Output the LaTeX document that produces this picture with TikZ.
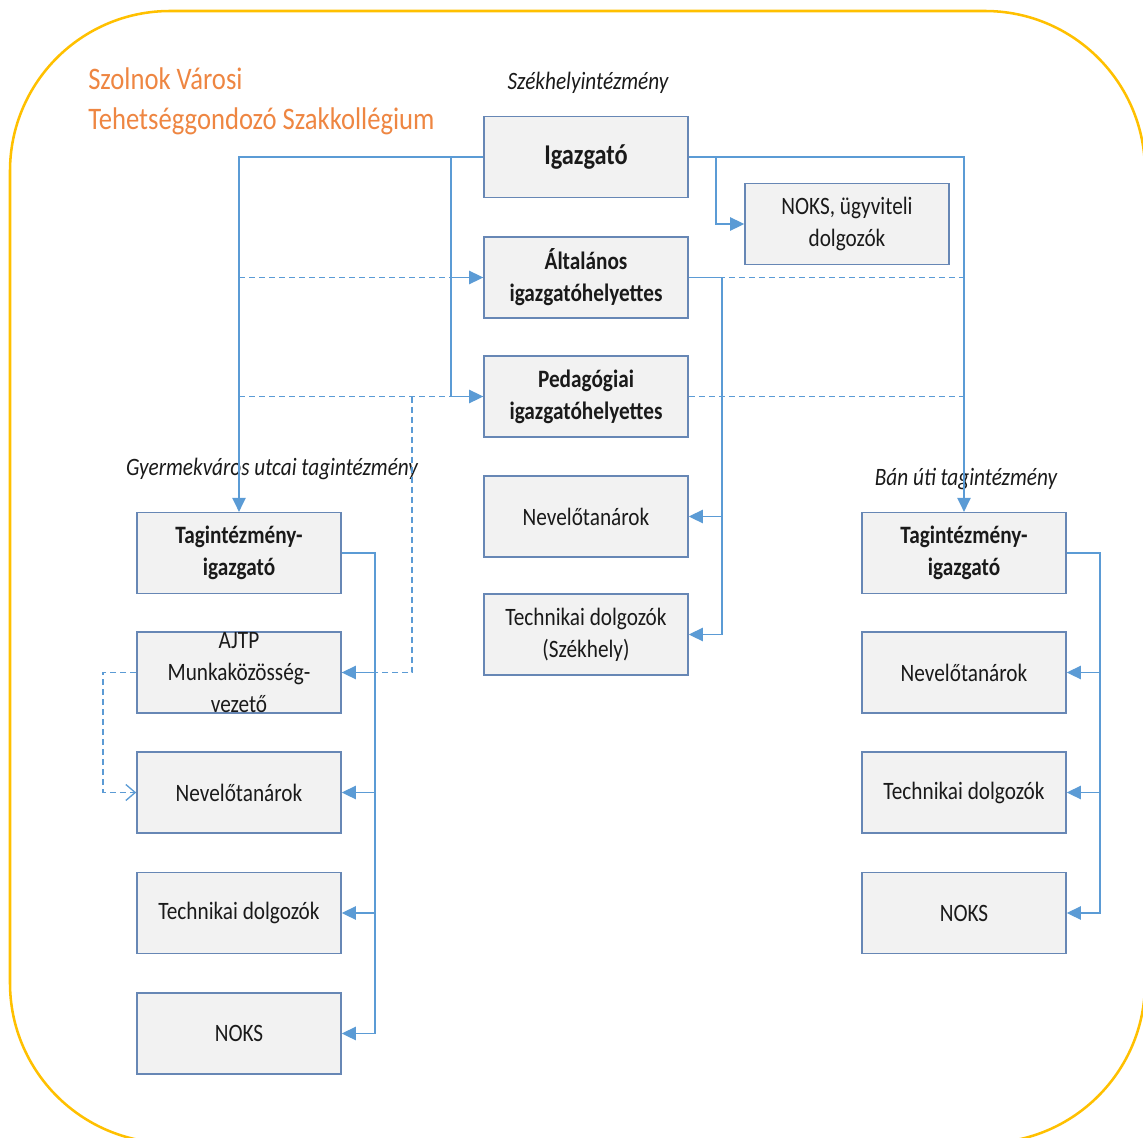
\documentclass[tikz,border=0pt]{standalone}
\usepackage{fontspec}
\setmainfont{Carlito}[FakeStretch=0.85]
\usetikzlibrary{arrows.meta}
\definecolor{frameC}{HTML}{FFC000}
\definecolor{titleC}{HTML}{EE8642}
\definecolor{lineC}{HTML}{5B9BD5}
\definecolor{boxD}{HTML}{6787B5}
\definecolor{boxF}{HTML}{F2F2F2}
\definecolor{txt}{HTML}{1A1A1A}
\tikzset{
  box/.style={draw=boxD, fill=boxF, line width=1.2pt, minimum width=153pt, minimum height=60.5pt,
    inner sep=0pt, align=center, text=txt, font=\fontsize{18.75}{24}\selectfont},
  bbox/.style={box, font=\fontsize{18.75}{24}\selectfont\bfseries},
  conn/.style={draw=lineC, line width=1pt},
  arr/.style={conn, -{Triangle[length=10.5pt,width=10pt]}},
  dline/.style={draw=lineC, line width=1pt, dash pattern=on 4.5pt off 3pt},
  lbl/.style={text=txt, font=\fontsize{18.75}{24}\selectfont\itshape, inner sep=0pt},
}
\begin{document}
\begin{tikzpicture}[x=0.75pt,y=-0.75pt]
\useasboundingbox (0,0) rectangle (1143,1138);
\clip (0,0) rectangle (1143,1138);
\draw[frameC, line width=1.9pt, rounded corners=120pt] (10,11) rectangle (1145,1143);

\node[anchor=west, align=left, text=titleC, inner sep=0pt, font=\fontsize{23.5}{30}\selectfont] (title) at (88,101) {Szolnok Városi\\Tehetséggondozó Szakkollégium};

\node[lbl] (lblS) at (588,83) {Székhelyintézmény};
\node[lbl] (lblG) at (272,469) {Gyermekváros utcai tagintézmény};
\node[lbl] (lblB) at (966,479) {Bán úti tagintézmény};

% center column
\node[bbox, font=\fontsize{21.5}{26}\selectfont\bfseries] (ig) at (586,157) {Igazgató};
\node[box] (noks0) at (847,224) {NOKS, ügyviteli\\dolgozók};
\node[bbox] (alt) at (586,277.5) {Általános\\igazgatóhelyettes};
\node[bbox] (ped) at (586,396.5) {Pedagógiai\\igazgatóhelyettes};
\node[box] (nevC) at (586,516.5) {Nevelőtanárok};
\node[box] (techC) at (586,634.5) {Technikai dolgozók\\(Székhely)};

% left column
\node[bbox] (tagL) at (239,553) {Tagintézmény-\\igazgató};
\node[box] (ajtp) at (239,672.5) {AJTP\\Munkaközösség-\\vezető};
\node[box] (nevL) at (239,792.5) {Nevelőtanárok};
\node[box] (techL) at (239,913) {Technikai dolgozók};
\node[box] (noksL) at (239,1033.5) {NOKS};

% right column
\node[bbox] (tagR) at (964,553) {Tagintézmény-\\igazgató};
\node[box] (nevR) at (964,672.5) {Nevelőtanárok};
\node[box] (techR) at (964,792.5) {Technikai dolgozók};
\node[box] (noksR) at (964,913) {NOKS};

% coordinates
\coordinate (bL) at (451,157);
\coordinate (bR) at (716,157);
\coordinate (cT) at (722,277.5);
\coordinate (lT) at (375,553);
\coordinate (rT) at (1100,553);
\coordinate (dA) at (239,277.5);
\coordinate (dP) at (239,396.5);
\coordinate (dJ) at (412,396.5);
\coordinate (aj) at (103,672.5);

% dashed lines (under)
\draw[dline] (dA) -- (alt.west);
\draw[dline] (dP) -- (ped.west);
\draw[dline] (alt.east) -| (tagR.north);
\draw[dline] (ped.east) -- (ped.east -| tagR.north);
\draw[dline] (dJ) |- (ajtp.east);
\draw[dline, -{Straight Barb[length=7pt,width=12pt]}] (ajtp.west) -- (aj) |- (nevL.west);

% solid connectors
\draw[arr] (ig.west) -| (tagL.north);
\draw[arr] (bL) |- (alt.west);
\draw[arr] (bL) |- (ped.west);
\draw[arr] (ig.east) -| (tagR.north);
\draw[arr] (bR) |- (noks0.west);
\draw[arr] (alt.east) -- (cT) |- (techC.east);
\draw[arr] (cT |- nevC.east) -- (nevC.east);

\draw[arr] (tagL.east) -- (lT) |- (noksL.east);
\foreach \n in {ajtp,nevL,techL} \draw[arr] (lT |- \n.east) -- (\n.east);

\draw[arr] (tagR.east) -- (rT) |- (noksR.east);
\foreach \n in {nevR,techR} \draw[arr] (rT |- \n.east) -- (\n.east);
\end{tikzpicture}
\end{document}
